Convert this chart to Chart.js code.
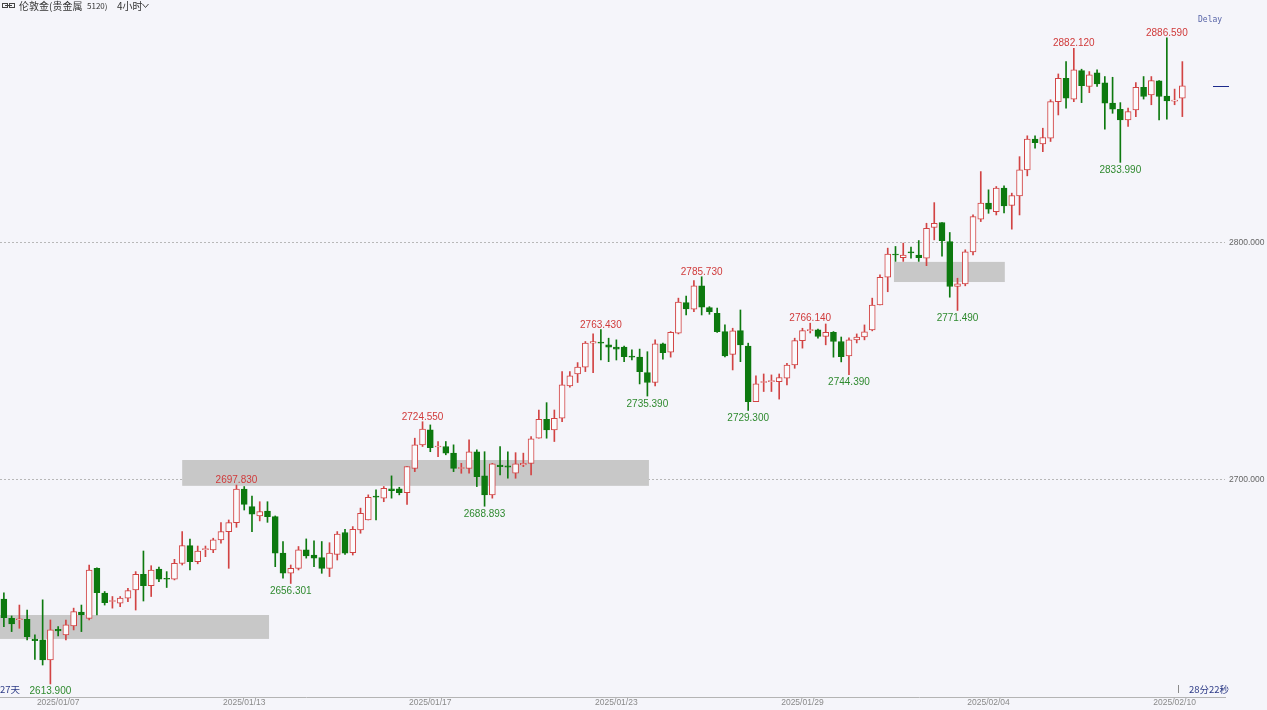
<!DOCTYPE html>
<html lang="zh">
<head>
<meta charset="UTF-8">
<title>伦敦金 4小时</title>
<script src="https://cdn.jsdelivr.net/npm/chart.js@4.4.1/dist/chart.umd.min.js"></script>
<style>
    html, body { margin: 0; padding: 0; background: #f5f5fa; }
    #chartWrap { position: relative; width: 1267px; height: 710px; }
    canvas { display: block; }
</style>
</head>
<body>
<div id="chartWrap"><canvas id="goldChart" width="1267" height="710"></canvas></div>
<script>
// Свечи 4H: open / high / low / close
const OPENS = [
    2649.7, 2641.6, 2641.0, 2641.2, 2632.8, 2632.5, 2624.0, 2637.0, 2634.6, 2638.4,
    2644.2, 2641.6, 2662.7, 2652.2, 2648.7, 2648.0, 2650.1, 2653.6, 2660.2, 2655.4,
    2662.4, 2658.3, 2658.1, 2664.8, 2672.3, 2665.5, 2670.6, 2670.5, 2674.7, 2678.2,
    2682.0, 2696.1, 2688.7, 2684.8, 2686.9, 2684.5, 2669.1, 2660.6, 2662.7, 2670.5,
    2668.3, 2667.2, 2662.7, 2668.6, 2677.8, 2669.3, 2678.9, 2683.1, 2693.2, 2692.3,
    2696.2, 2696.2, 2694.6, 2704.9, 2714.8, 2721.1, 2713.9, 2714.1, 2711.3, 2704.8,
    2704.9, 2711.9, 2701.7, 2693.7, 2706.3, 2705.9, 2702.8, 2706.3, 2707.0, 2717.6,
    2725.6, 2721.1, 2726.0, 2739.7, 2744.7, 2747.6, 2757.7, 2757.9, 2757.0, 2756.0,
    2756.0, 2752.3, 2751.8, 2745.3, 2741.1, 2757.4, 2753.9, 2761.9, 2774.8, 2772.0,
    2781.9, 2772.7, 2770.3, 2762.6, 2753.0, 2763.0, 2756.5, 2733.0, 2741.1, 2741.5,
    2741.5, 2742.9, 2748.5, 2758.8, 2763.0, 2763.3, 2760.5, 2762.3, 2758.4, 2752.3,
    2759.1, 2760.3, 2763.3, 2773.8, 2785.5, 2795.3, 2793.8, 2796.1, 2794.9, 2793.6,
    2806.5, 2808.6, 2800.6, 2781.6, 2782.7, 2796.2, 2810.0, 2816.8, 2813.2, 2823.1,
    2815.8, 2819.8, 2830.8, 2843.8, 2841.8, 2844.2, 2859.6, 2869.5, 2860.7, 2872.7,
    2866.0, 2871.8, 2867.5, 2859.0, 2856.4, 2851.9, 2856.1, 2865.6, 2862.5, 2868.4,
    2862.0, 2859.8, 2861.1
];
const HIGHS = [
    2652.4, 2642.6, 2647.2, 2645.1, 2634.6, 2649.4, 2640.9, 2638.1, 2640.9, 2645.9,
    2647.2, 2664.1, 2662.9, 2652.9, 2650.8, 2650.8, 2654.3, 2661.3, 2670.0, 2663.8,
    2663.2, 2661.3, 2666.5, 2678.2, 2675.0, 2672.1, 2672.1, 2675.4, 2682.0, 2683.1,
    2697.83, 2697.2, 2693.2, 2690.8, 2690.8, 2684.8, 2674.0, 2664.1, 2671.9, 2675.1,
    2674.3, 2674.0, 2673.5, 2678.2, 2679.2, 2680.3, 2688.1, 2693.7, 2695.8, 2697.2,
    2701.7, 2696.9, 2705.6, 2717.6, 2724.55, 2723.2, 2716.2, 2716.2, 2714.8, 2707.0,
    2716.9, 2712.7, 2711.9, 2707.0, 2714.1, 2711.9, 2711.5, 2711.3, 2718.3, 2729.5,
    2732.6, 2729.5, 2745.7, 2745.7, 2749.5, 2758.4, 2761.6, 2763.43, 2759.8, 2759.1,
    2756.5, 2754.9, 2755.2, 2754.1, 2759.1, 2757.7, 2762.6, 2776.7, 2777.6, 2784.1,
    2785.73, 2773.1, 2772.5, 2765.4, 2764.0, 2771.7, 2757.7, 2743.9, 2744.7, 2744.3,
    2744.7, 2749.2, 2759.8, 2764.0, 2766.14, 2763.6, 2765.8, 2762.6, 2760.3, 2759.9,
    2761.6, 2765.4, 2776.7, 2786.5, 2797.8, 2798.5, 2799.9, 2798.2, 2801.0, 2808.3,
    2817.0, 2808.6, 2804.4, 2785.1, 2797.1, 2811.8, 2830.1, 2822.4, 2823.8, 2824.1,
    2821.0, 2836.4, 2845.2, 2845.2, 2848.4, 2860.4, 2871.3, 2876.5, 2882.12, 2873.3,
    2872.3, 2873.0, 2870.2, 2869.9, 2859.2, 2856.9, 2867.7, 2870.2, 2870.2, 2868.5,
    2886.59, 2864.9, 2876.5
];
const LOWS = [
    2638.1, 2636.0, 2637.4, 2632.5, 2624.3, 2621.9, 2613.9, 2634.2, 2632.5, 2636.7,
    2636.0, 2640.9, 2643.0, 2647.2, 2645.9, 2646.5, 2648.6, 2645.1, 2648.9, 2650.8,
    2657.1, 2654.6, 2657.8, 2664.1, 2662.0, 2664.6, 2667.6, 2669.3, 2673.3, 2662.7,
    2680.0, 2687.3, 2678.2, 2682.7, 2682.1, 2663.4, 2658.5, 2656.301, 2662.0, 2667.0,
    2663.4, 2660.6, 2659.2, 2666.2, 2668.6, 2668.3, 2677.5, 2683.1, 2683.1, 2690.8,
    2692.3, 2693.7, 2689.7, 2703.5, 2714.1, 2711.9, 2709.8, 2710.6, 2703.5, 2702.8,
    2702.8, 2697.2, 2688.893, 2692.3, 2702.1, 2700.7, 2700.7, 2705.6, 2702.1, 2717.6,
    2717.6, 2716.2, 2724.6, 2739.1, 2741.1, 2745.7, 2745.3, 2750.6, 2749.9, 2750.6,
    2749.9, 2750.6, 2740.5, 2735.39, 2739.7, 2750.9, 2751.8, 2761.6, 2769.6, 2771.0,
    2769.6, 2769.9, 2762.2, 2751.9, 2746.4, 2749.9, 2729.3, 2733.0, 2737.3, 2737.3,
    2734.1, 2740.1, 2747.1, 2755.6, 2762.0, 2759.8, 2757.0, 2751.8, 2749.8, 2744.39,
    2757.8, 2759.1, 2762.9, 2773.8, 2779.4, 2792.2, 2792.2, 2793.6, 2792.2, 2790.4,
    2801.3, 2794.4, 2777.1, 2771.49, 2781.9, 2794.9, 2809.0, 2812.5, 2811.8, 2812.7,
    2805.8, 2811.8, 2828.3, 2840.0, 2838.5, 2842.8, 2854.0, 2856.9, 2859.6, 2859.2,
    2863.4, 2866.0, 2848.0, 2854.7, 2833.99, 2849.2, 2853.3, 2860.7, 2858.3, 2851.9,
    2852.2, 2858.3, 2853.3
];
const CLOSES = [
    2641.9, 2639.2, 2641.4, 2633.9, 2632.2, 2624.0, 2636.7, 2636.3, 2638.8, 2644.4,
    2643.0, 2662.0, 2652.4, 2648.2, 2649.0, 2650.1, 2653.3, 2660.2, 2655.4, 2662.0,
    2658.1, 2658.1, 2664.8, 2672.3, 2665.5, 2670.0, 2670.8, 2674.7, 2678.2, 2682.0,
    2696.1, 2689.7, 2685.5, 2686.6, 2684.5, 2669.1, 2660.6, 2662.7, 2670.5, 2667.9,
    2667.0, 2662.7, 2669.1, 2677.1, 2669.1, 2679.2, 2685.9, 2692.7, 2692.7, 2696.5,
    2695.5, 2694.6, 2705.6, 2714.8, 2721.4, 2713.6, 2714.0, 2711.3, 2704.9, 2704.9,
    2711.9, 2701.4, 2693.7, 2706.8, 2705.6, 2705.4, 2706.8, 2707.0, 2717.3, 2725.6,
    2721.1, 2726.0, 2740.1, 2743.9, 2747.6, 2757.7, 2758.4, 2757.7, 2756.0, 2755.2,
    2752.0, 2751.8, 2745.7, 2741.1, 2757.4, 2753.7, 2762.3, 2775.0, 2772.2, 2781.9,
    2772.9, 2771.0, 2762.6, 2752.3, 2762.9, 2757.0, 2733.0, 2740.5, 2741.3, 2741.7,
    2743.2, 2748.5, 2758.8, 2763.0, 2763.2, 2760.5, 2762.3, 2758.4, 2752.0, 2759.1,
    2760.3, 2762.5, 2773.8, 2785.5, 2795.3, 2794.9, 2794.9, 2795.8, 2793.8, 2806.2,
    2808.3, 2801.0, 2781.6, 2782.7, 2796.2, 2811.1, 2816.8, 2814.2, 2823.1, 2815.6,
    2820.0, 2830.8, 2843.8, 2842.3, 2844.5, 2859.6, 2869.5, 2861.1, 2873.0, 2866.3,
    2870.9, 2867.1, 2859.0, 2856.4, 2851.9, 2855.4, 2865.6, 2861.8, 2868.5, 2861.8,
    2859.9, 2860.0, 2866.3
];

// Подписи оси X и их позиции (номер свечи)
const DATE_LABELS = ['2025/01/07', '2025/01/13', '2025/01/17', '2025/01/23', '2025/01/29', '2025/02/04', '2025/02/10'];
const DATE_LABEL_IDX = [7, 31, 55, 79, 103, 127, 151];
const Y_TICKS = [2700, 2800];
const SLOT_COUNT = 158;

// Серые зоны: [от свечи, до свечи, верх, низ]
const ZONES = [
    [-0.5, 34.2, 2643.0, 2632.9],
    [23.0, 83.2, 2708.4, 2697.5],
    [114.8, 129.1, 2792.0, 2783.5]
];

// Отметки экстремумов: [номер свечи, тип]
const EXTREMES = [
    [6, 'low'], [30, 'high'], [37, 'low'], [54, 'high'], [62, 'low'],
    [77, 'high'], [83, 'low'], [90, 'high'], [96, 'low'], [104, 'high'],
    [109, 'low'], [123, 'low'], [138, 'high'], [144, 'low'], [150, 'high']
];

const UP_COLOR = '#d24343';
const DOWN_COLOR = '#0d790f';
const HOLLOW_COLOR = '#fbfbfd';

const categories = Array.from({ length: SLOT_COUNT }, (_, i) => {
    const k = DATE_LABEL_IDX.indexOf(i);
    return k >= 0 ? DATE_LABELS[k] : String(i);
});
const isUp = OPENS.map((o, i) => CLOSES[i] >= o);

const CJK = '"Noto Sans CJK SC", sans-serif';

const overlayPlugin = {
    id: 'overlay',
    beforeDatasetsDraw(chart) {
        const { ctx, chartArea, scales: { x, y } } = chart;
        ctx.save();
        ctx.fillStyle = '#c8c8c8';
        ZONES.forEach(([from, to, top, bottom]) => {
            const x1 = Math.max(chartArea.left, x.getPixelForValue(from));
            const x2 = x.getPixelForValue(to);
            const y1 = y.getPixelForValue(top);
            const y2 = y.getPixelForValue(bottom);
            ctx.fillRect(x1, y1, x2 - x1, y2 - y1);
        });
        ctx.restore();
    },
    afterDatasetsDraw(chart) {
        const { ctx, scales: { x, y } } = chart;
        ctx.save();
        ctx.font = '10px "Liberation Sans", Arial, sans-serif';
        ctx.textAlign = 'center';
        ctx.textBaseline = 'alphabetic';
        EXTREMES.forEach(([i, kind]) => {
            const px = x.getPixelForValue(i);
            if (kind === 'high') {
                ctx.fillStyle = '#d03a3a';
                ctx.fillText(HIGHS[i].toFixed(3), px, y.getPixelForValue(HIGHS[i]) - 2);
            } else {
                ctx.fillStyle = '#2f8a2f';
                ctx.fillText(LOWS[i].toFixed(3), px, y.getPixelForValue(LOWS[i]) + 10.5);
            }
        });

        // текущая цена справа
        const last = CLOSES[CLOSES.length - 1];
        const py = Math.round(y.getPixelForValue(last)) + 0.5;
        ctx.strokeStyle = '#1c2a8c';
        ctx.lineWidth = 1;
        ctx.beginPath();
        ctx.moveTo(1213, py);
        ctx.lineTo(1229, py);
        ctx.stroke();
        ctx.restore();
    },
    afterDraw(chart) {
        const { ctx } = chart;
        ctx.save();
        // иконка + заголовок
        ctx.strokeStyle = '#444';
        ctx.lineWidth = 1;
        ctx.strokeRect(2.5, 3.5, 5, 4);
        ctx.strokeRect(9.5, 3.5, 5, 4);
        ctx.beginPath();
        ctx.moveTo(5, 5.5);
        ctx.lineTo(12, 5.5);
        ctx.stroke();

        ctx.fillStyle = '#333';
        ctx.textBaseline = 'middle';
        ctx.textAlign = 'left';
        ctx.font = '10px ' + CJK;
        ctx.fillText('伦敦金(贵金属', 19, 6);
        ctx.font = '8px ' + CJK;
        ctx.fillText('5120)', 87, 6);
        ctx.font = '10px ' + CJK;
        ctx.fillText('4小时', 117, 6);
        ctx.beginPath();
        ctx.moveTo(142.5, 4);
        ctx.lineTo(145.5, 7.5);
        ctx.lineTo(148.5, 4);
        ctx.stroke();

        ctx.fillStyle = '#5865a8';
        ctx.font = '8px "DejaVu Sans Mono", monospace';
        ctx.fillText('Delay', 1198, 20);

        ctx.fillStyle = '#2c3a86';
        ctx.font = '9.5px ' + CJK;
        ctx.fillText('27天', 0, 689);
        ctx.fillText('28分22秒', 1189, 689);

        // короткая метка у нижнего края
        ctx.strokeStyle = '#8a8a8a';
        ctx.beginPath();
        ctx.moveTo(1178.5, 685);
        ctx.lineTo(1178.5, 693);
        ctx.stroke();
        ctx.restore();
    }
};

const ctx = document.getElementById('goldChart').getContext('2d');
new Chart(ctx, {
    type: 'bar',
    data: {
        labels: categories,
        datasets: [
            {
                label: 'body',
                data: OPENS.map((o, i) => [o, CLOSES[i]]),
                backgroundColor: isUp.map(u => u ? HOLLOW_COLOR : DOWN_COLOR),
                borderColor: isUp.map(u => u ? UP_COLOR : DOWN_COLOR),
                borderWidth: 1,
                borderSkipped: false,
                barThickness: 6,
                minBarLength: 1,
                grouped: false,
                order: 1
            },
            {
                label: 'wick',
                data: LOWS.map((l, i) => [l, HIGHS[i]]),
                backgroundColor: isUp.map(u => u ? UP_COLOR : DOWN_COLOR),
                borderWidth: 0,
                barThickness: 1,
                grouped: false,
                order: 2
            }
        ]
    },
    options: {
        responsive: false,
        animation: false,
        devicePixelRatio: 1,
        layout: { padding: 0 },
        plugins: {
            legend: { display: false },
            tooltip: { enabled: false }
        },
        scales: {
            x: {
                type: 'category',
                offset: true,
                grid: { display: false, drawTicks: false },
                border: { display: true, color: '#b4b4b4' },
                afterBuildTicks: scale => {
                    scale.ticks = DATE_LABEL_IDX.map(v => ({ value: v }));
                },
                afterFit: scale => {
                    scale.height = 13;
                    scale.paddingLeft = 0;
                    scale.paddingRight = 0;
                },
                ticks: {
                    autoSkip: false,
                    maxRotation: 0,
                    padding: 1,
                    color: '#8a8a8a',
                    font: { family: '"Liberation Sans", Arial, sans-serif', size: 8.5 },
                    callback: (value, index) => DATE_LABELS[index]
                }
            },
            y: {
                position: 'right',
                min: 2608.4,
                max: 2902.5,
                afterBuildTicks: scale => {
                    scale.ticks = Y_TICKS.map(v => ({ value: v }));
                },
                afterFit: scale => {
                    scale.width = 42;
                    scale.paddingTop = 0;
                    scale.paddingBottom = 0;
                },
                grid: { color: '#b8b8b8', drawTicks: false },
                border: { display: false, dash: [2, 2] },
                ticks: {
                    padding: 4,
                    color: '#666',
                    font: { family: '"Liberation Sans", Arial, sans-serif', size: 8.5 },
                    callback: v => v.toFixed(3)
                }
            }
        }
    },
    plugins: [overlayPlugin]
});
</script>
</body>
</html>
